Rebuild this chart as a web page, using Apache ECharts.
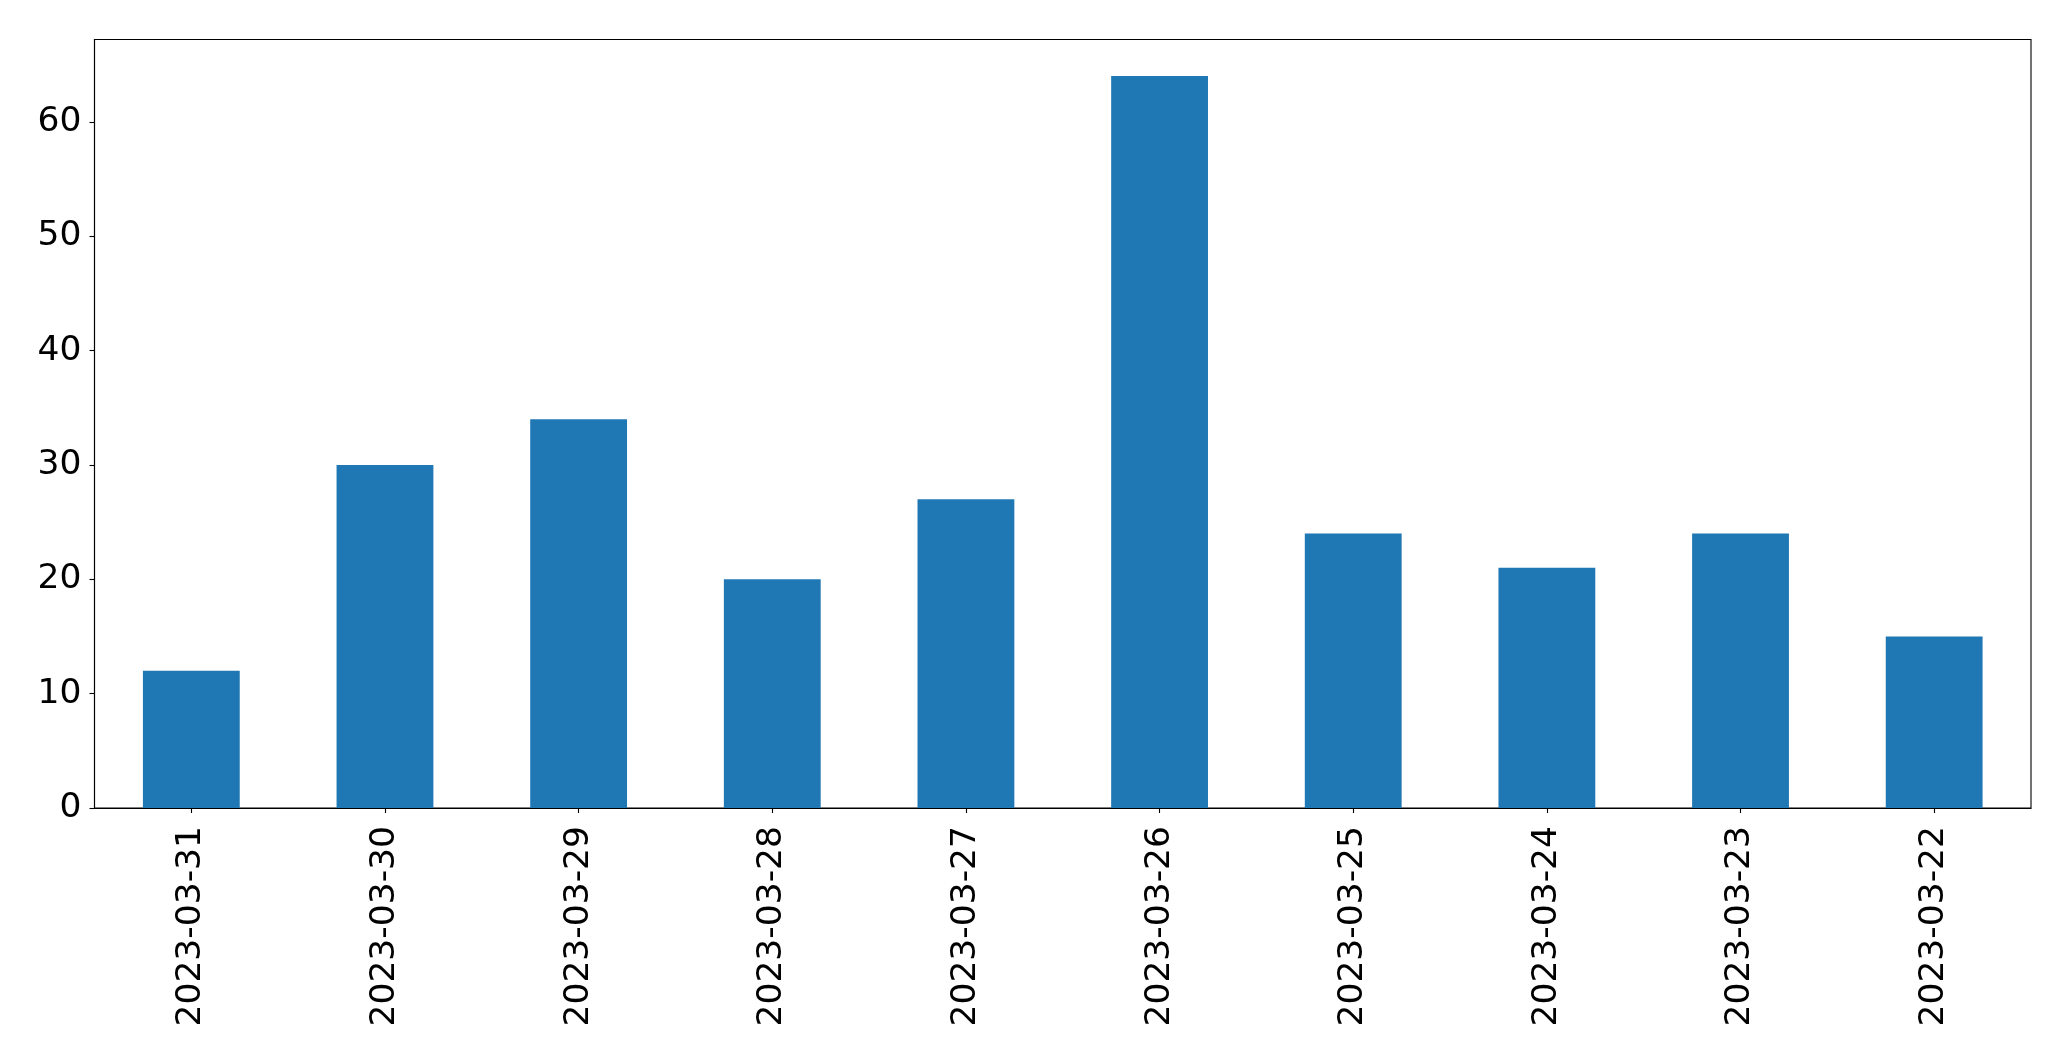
<!DOCTYPE html>
<html>
<head>
<meta charset="utf-8">
<script src="https://cdn.jsdelivr.net/npm/echarts@6/dist/echarts.min.js"></script>
<style>
html,body{margin:0;padding:0;background:#fff;}
#chart{width:2071px;height:1061px;}
</style>
</head>
<body>
<div id="chart"></div>
<script>
const categories = ['2023-03-31','2023-03-30','2023-03-29','2023-03-28','2023-03-27','2023-03-26','2023-03-25','2023-03-24','2023-03-23','2023-03-22'];
const values = [12, 30, 34, 20, 27, 64, 24, 21, 24, 15];
const yTicks = [0, 10, 20, 30, 40, 50, 60];

const chart = echarts.init(document.getElementById('chart'), null, {renderer: 'canvas'});
const font = 'DejaVu Sans';
chart.setOption({
  animation: false,
  backgroundColor: '#fff',
  grid: {
    left: 94.5, right: 40, top: 39.5, bottom: 253,
    show: true, borderColor: '#000', borderWidth: 1.1, backgroundColor: 'transparent'
  },
  xAxis: {
    type: 'category',
    data: categories,
    axisLine: {show: true, lineStyle: {color: '#000', width: 1.1}},
    axisTick: {show: true, alignWithLabel: true, length: 5, lineStyle: {color: '#000', width: 1.1}},
    axisLabel: {rotate: 90, color: '#000', fontFamily: font, fontSize: 34.5, margin: 18, interval: 0},
    splitLine: {show: false}
  },
  yAxis: {
    type: 'value',
    min: 0,
    max: 67.2,
    interval: 10,
    axisLine: {show: true, lineStyle: {color: '#000', width: 1.1}},
    axisTick: {show: true, length: 5, lineStyle: {color: '#000', width: 1.1}, customValues: yTicks},
    axisLabel: {color: '#000', fontFamily: font, fontSize: 34.5, margin: 13, customValues: yTicks},
    splitLine: {show: false}
  },
  series: [{
    type: 'bar',
    data: values,
    barWidth: '50%',
    itemStyle: {color: '#1f77b4'}
  }]
});
</script>
</body>
</html>
